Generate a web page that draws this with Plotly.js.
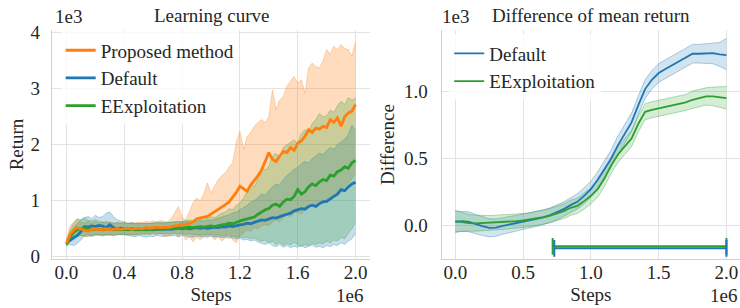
<!DOCTYPE html>
<html><head><meta charset="utf-8">
<script src="https://cdn.plot.ly/plotly-3.0.1.min.js"></script>
<style>html,body{margin:0;padding:0;background:#fff}#chart{width:740px;height:308px}</style>
</head><body><div id="chart"></div>
<script>
// ---------- Left panel: Learning curve (x in 1e6 steps, y in 1e3 return) ----------
const stepsL = [
0,0.025,0.05,0.075,0.1,0.125,0.15,0.175,0.2,0.225,
0.25,0.275,0.3,0.325,0.35,0.375,0.4,0.425,0.45,0.475,
0.5,0.525,0.55,0.575,0.6,0.625,0.65,0.675,0.7,0.725,
0.75,0.775,0.8,0.825,0.85,0.875,0.9,0.925,0.95,0.975,
1.0,1.025,1.05,1.075,1.1,1.125,1.15,1.175,1.2,1.225,
1.25,1.275,1.3,1.325,1.35,1.375,1.4,1.425,1.45,1.475,
1.5,1.525,1.55,1.575,1.6,1.625,1.65,1.675,1.7,1.725,
1.75,1.775,1.8,1.825,1.85,1.875,1.9,1.925,1.95,1.975,
2.0];

const proposedMean = [
0.24,0.40,0.48,0.52,0.50,0.47,0.46,0.49,0.50,0.48,
0.49,0.50,0.48,0.49,0.50,0.49,0.50,0.51,0.49,0.50,
0.51,0.50,0.52,0.51,0.52,0.53,0.52,0.53,0.52,0.54,
0.55,0.56,0.58,0.57,0.60,0.62,0.68,0.70,0.71,0.72,
0.76,0.80,0.84,0.88,0.93,0.98,1.06,1.15,1.26,1.22,
1.17,1.28,1.36,1.45,1.55,1.70,1.86,1.74,1.70,1.80,
1.88,1.86,1.95,1.90,2.03,2.07,2.15,2.27,2.22,2.30,
2.28,2.33,2.31,2.45,2.40,2.48,2.33,2.50,2.57,2.60,
2.72];
const proposedHi = [
0.30,0.55,0.62,0.68,0.62,0.60,0.64,0.60,0.63,0.60,
0.62,0.60,0.62,0.60,0.61,0.60,0.62,0.60,0.61,0.60,
0.62,0.61,0.63,0.62,0.64,0.63,0.65,0.64,0.62,0.68,
0.78,0.90,0.70,0.66,0.80,0.96,1.05,1.00,1.12,1.32,
1.14,1.25,1.38,1.45,1.50,1.60,1.68,2.05,2.24,1.92,
2.15,2.22,2.33,2.40,2.45,2.40,2.50,2.98,2.63,2.80,
2.86,3.05,3.13,3.22,3.10,3.16,2.92,3.37,3.46,3.40,
3.37,3.50,3.70,3.62,3.76,3.70,3.79,3.72,3.70,3.58,
3.85];
const proposedLo = [
0.20,0.30,0.38,0.40,0.38,0.37,0.36,0.38,0.40,0.38,
0.40,0.39,0.38,0.40,0.41,0.40,0.41,0.40,0.39,0.40,
0.41,0.40,0.42,0.40,0.41,0.40,0.42,0.38,0.36,0.40,
0.42,0.35,0.42,0.30,0.36,0.27,0.35,0.30,0.38,0.33,
0.40,0.30,0.36,0.28,0.34,0.42,0.30,0.25,0.38,0.42,
0.48,0.45,0.52,0.50,0.55,0.58,0.55,0.62,0.66,0.62,
0.70,0.74,0.72,0.78,0.80,0.76,0.85,0.88,0.92,0.90,
0.96,1.00,1.02,1.05,1.10,1.15,1.20,1.25,1.32,1.40,
1.48];

const defaultMean = [
0.25,0.30,0.34,0.38,0.45,0.54,0.53,0.55,0.54,0.56,
0.55,0.52,0.57,0.52,0.50,0.51,0.50,0.49,0.50,0.49,
0.48,0.49,0.48,0.49,0.48,0.49,0.50,0.49,0.50,0.49,
0.50,0.51,0.50,0.51,0.50,0.51,0.52,0.51,0.52,0.51,
0.52,0.53,0.52,0.54,0.53,0.55,0.54,0.56,0.57,0.58,
0.60,0.59,0.61,0.64,0.66,0.65,0.67,0.70,0.69,0.72,
0.74,0.76,0.78,0.82,0.84,0.86,0.85,0.90,0.92,0.90,
0.95,0.98,0.99,1.04,1.08,1.12,1.20,1.18,1.25,1.30,
1.33];
const defaultHi = [
0.30,0.42,0.52,0.60,0.66,0.70,0.72,0.68,0.74,0.70,
0.72,0.78,0.80,0.72,0.66,0.64,0.62,0.60,0.61,0.60,
0.59,0.60,0.59,0.60,0.60,0.61,0.62,0.60,0.61,0.62,
0.63,0.62,0.63,0.64,0.62,0.63,0.64,0.65,0.64,0.66,
0.65,0.67,0.68,0.70,0.72,0.75,0.78,0.80,0.84,0.88,
0.92,0.98,1.00,1.06,1.12,1.10,1.18,1.25,1.30,1.28,
1.38,1.45,1.50,1.56,1.60,1.66,1.70,1.68,1.75,1.80,
1.85,1.82,1.90,1.95,1.92,2.00,2.05,2.10,2.18,2.35,
2.25];
const defaultLo = [
0.20,0.22,0.20,0.24,0.30,0.38,0.40,0.36,0.38,0.40,
0.37,0.38,0.40,0.38,0.39,0.40,0.39,0.38,0.37,0.36,
0.38,0.37,0.35,0.37,0.36,0.38,0.37,0.36,0.38,0.37,
0.38,0.36,0.38,0.37,0.36,0.35,0.37,0.36,0.35,0.37,
0.36,0.35,0.36,0.34,0.35,0.33,0.34,0.32,0.33,0.30,
0.31,0.28,0.30,0.26,0.24,0.22,0.25,0.20,0.18,0.22,
0.17,0.20,0.16,0.19,0.17,0.20,0.16,0.18,0.21,0.17,
0.19,0.16,0.20,0.18,0.22,0.20,0.25,0.22,0.28,0.32,
0.42];

const eexpMean = [
0.22,0.36,0.44,0.48,0.50,0.52,0.50,0.48,0.50,0.49,
0.48,0.50,0.49,0.48,0.49,0.48,0.49,0.48,0.49,0.48,
0.49,0.48,0.49,0.48,0.49,0.50,0.49,0.50,0.51,0.50,
0.51,0.52,0.51,0.52,0.53,0.52,0.53,0.54,0.53,0.54,
0.55,0.54,0.56,0.57,0.58,0.60,0.59,0.62,0.64,0.66,
0.68,0.70,0.71,0.76,0.80,0.84,0.86,0.92,0.94,0.90,
0.98,1.03,1.02,1.08,1.20,1.12,1.16,1.25,1.30,1.27,
1.34,1.38,1.36,1.46,1.44,1.52,1.55,1.61,1.58,1.68,
1.72];
const eexpHi = [
0.28,0.48,0.60,0.68,0.66,0.70,0.65,0.64,0.66,0.63,
0.62,0.63,0.61,0.60,0.61,0.60,0.60,0.59,0.60,0.59,
0.60,0.59,0.60,0.59,0.60,0.61,0.60,0.61,0.62,0.61,
0.62,0.63,0.62,0.64,0.66,0.64,0.68,0.66,0.70,0.68,
0.72,0.70,0.74,0.78,0.80,0.86,0.84,0.92,0.96,1.05,
1.18,1.32,1.25,1.40,1.60,1.55,1.62,1.80,1.85,1.78,
1.95,2.00,2.05,2.09,2.02,2.20,2.27,2.22,2.38,2.45,
2.56,2.50,2.52,2.62,2.58,2.70,2.78,2.72,2.84,2.80,
2.83];
const eexpLo = [
0.18,0.28,0.34,0.36,0.38,0.36,0.37,0.38,0.40,0.39,
0.38,0.40,0.39,0.38,0.40,0.39,0.40,0.39,0.40,0.39,
0.40,0.41,0.40,0.41,0.42,0.41,0.42,0.41,0.42,0.41,
0.42,0.41,0.42,0.40,0.41,0.39,0.40,0.38,0.40,0.39,
0.40,0.38,0.39,0.37,0.38,0.36,0.37,0.35,0.36,0.34,
0.35,0.32,0.34,0.30,0.28,0.30,0.25,0.28,0.22,0.26,
0.20,0.24,0.21,0.26,0.22,0.18,0.22,0.20,0.24,0.22,
0.25,0.23,0.28,0.25,0.30,0.28,0.35,0.32,0.42,0.50,
0.62];

// ---------- Right panel: Difference of mean return ----------
const stepsR = [
0,0.05,0.1,0.15,0.2,0.25,0.3,0.35,0.4,0.45,
0.5,0.55,0.6,0.65,0.7,0.75,0.8,0.85,0.9,0.95,
1.0,1.05,1.1,1.15,1.2,1.25,1.3,1.35,1.4,1.45,
1.5,1.55,1.6,1.65,1.7,1.75,1.8,1.85,1.9,1.95,
2.0];
const diffDefaultMean = [
0.025,0.03,0.025,0.008,-0.008,-0.02,-0.018,-0.005,0.005,0.015,
0.025,0.035,0.045,0.058,0.075,0.095,0.12,0.15,0.175,0.22,
0.27,0.34,0.42,0.50,0.60,0.69,0.77,0.90,1.02,1.09,
1.14,1.17,1.20,1.23,1.26,1.285,1.285,1.285,1.29,1.28,
1.275];
const diffDefaultLo = [
-0.055,-0.045,-0.05,-0.065,-0.078,-0.088,-0.083,-0.068,-0.055,-0.043,
-0.032,-0.02,-0.01,0.003,0.02,0.04,0.065,0.095,0.12,0.16,
0.21,0.28,0.355,0.435,0.53,0.62,0.70,0.83,0.95,1.02,
1.07,1.10,1.13,1.16,1.19,1.215,1.215,1.21,1.21,1.19,
1.165];
const diffDefaultHi = [
0.105,0.105,0.10,0.08,0.062,0.048,0.047,0.058,0.065,0.073,
0.082,0.09,0.10,0.113,0.13,0.15,0.175,0.205,0.235,0.28,
0.33,0.40,0.485,0.565,0.67,0.76,0.84,0.97,1.09,1.16,
1.21,1.24,1.27,1.30,1.33,1.355,1.355,1.36,1.37,1.37,
1.40];
const diffEexpMean = [
0.03,0.022,0.015,0.013,0.015,0.017,0.02,0.022,0.025,0.03,
0.035,0.042,0.05,0.06,0.072,0.088,0.105,0.13,0.145,0.18,
0.22,0.27,0.35,0.45,0.53,0.59,0.65,0.76,0.85,0.865,
0.875,0.885,0.895,0.91,0.92,0.94,0.955,0.965,0.965,0.96,
0.952];
const diffEexpLo = [
-0.05,-0.045,-0.045,-0.045,-0.04,-0.038,-0.035,-0.032,-0.028,-0.022,
-0.017,-0.01,-0.003,0.007,0.018,0.033,0.05,0.073,0.087,0.12,
0.16,0.21,0.29,0.39,0.47,0.53,0.59,0.70,0.79,0.805,
0.815,0.825,0.835,0.85,0.86,0.875,0.89,0.90,0.895,0.885,
0.87];
const diffEexpHi = [
0.11,0.095,0.08,0.075,0.072,0.072,0.075,0.077,0.078,0.082,
0.087,0.094,0.103,0.113,0.126,0.143,0.16,0.187,0.203,0.24,
0.28,0.33,0.41,0.51,0.59,0.65,0.71,0.82,0.91,0.925,
0.935,0.945,0.955,0.97,0.98,1.005,1.02,1.03,1.035,1.035,
1.04];

// significance intervals (x in 1e6 steps, y in 1e3)
const sigNames = ['EExploitation', 'Default'];
const sigStart = [0.718, 0.73];
const sigEnd = [2.0, 2.0];
const sigY = [-0.159, -0.174];

// ticks
const xTickValsL = [0, 0.4, 0.8, 1.2, 1.6, 2.0];
const xTickTextL = ['0.0', '0.4', '0.8', '1.2', '1.6', '2.0'];
const yTickValsL = [0, 1, 2, 3, 4];
const yTickTextL = ['0', '1', '2', '3', '4'];
const xTickValsR = [0, 0.5, 1.0, 1.5, 2.0];
const xTickTextR = ['0.0', '0.5', '1.0', '1.5', '2.0'];
const yTickValsR = [0, 0.5, 1.0];
const yTickTextR = ['0.0', '0.5', '1.0'];

// ---------- styling ----------
const FONT = 'Liberation Serif';
const FS = 19;
const TXT = '#262626';
const COL = {orange: [255,127,14], blue: [31,119,180], green: [44,160,44]};
const rgba = (c, a) => `rgba(${c[0]},${c[1]},${c[2]},${a})`;

function band(x, lo, hi, c, xa, ya, fa, la) {
  return [
    {x: x, y: lo, xaxis: xa, yaxis: ya, type: 'scatter', mode: 'lines',
     line: {color: rgba(c, la), width: 1}, showlegend: false, hoverinfo: 'skip'},
    {x: x, y: hi, xaxis: xa, yaxis: ya, type: 'scatter', mode: 'lines', fill: 'tonexty',
     fillcolor: rgba(c, fa), line: {color: rgba(c, la), width: 1}, showlegend: false, hoverinfo: 'skip'}
  ];
}
function meanLine(x, y, c, name, xa, ya, w, lg, rank) {
  return {x: x, y: y, xaxis: xa, yaxis: ya, type: 'scatter', mode: 'lines', name: name,
          line: {color: rgba(c, 1), width: w}, legend: lg, legendrank: rank};
}

const traces = [];
traces.push(...band(stepsL, proposedLo, proposedHi, COL.orange, 'x', 'y', 0.27, 0.3));
traces.push(...band(stepsL, defaultLo, defaultHi, COL.blue, 'x', 'y', 0.25, 0.3));
traces.push(...band(stepsL, eexpLo, eexpHi, COL.green, 'x', 'y', 0.25, 0.3));
traces.push(meanLine(stepsL, defaultMean, COL.blue, 'Default', 'x', 'y', 2.8, 'legend', 2));
traces.push(meanLine(stepsL, eexpMean, COL.green, 'EExploitation', 'x', 'y', 2.8, 'legend', 3));
traces.push(meanLine(stepsL, proposedMean, COL.orange, 'Proposed method', 'x', 'y', 2.8, 'legend', 1));

traces.push(...band(stepsR, diffDefaultLo, diffDefaultHi, COL.blue, 'x2', 'y2', 0.2, 0.35));
traces.push(...band(stepsR, diffEexpLo, diffEexpHi, COL.green, 'x2', 'y2', 0.2, 0.35));
traces.push(meanLine(stepsR, diffDefaultMean, COL.blue, 'Default', 'x2', 'y2', 1.8, 'legend2', 1));
traces.push(meanLine(stepsR, diffEexpMean, COL.green, 'EExploitation', 'x2', 'y2', 1.8, 'legend2', 2));

// significance bars
sigNames.forEach((n, i) => {
  const c = n === 'Default' ? COL.blue : COL.green;
  traces.push({x: [sigStart[i], sigEnd[i]], y: [sigY[i], sigY[i]], xaxis: 'x2', yaxis: 'y2',
    type: 'scatter', mode: 'lines+markers', showlegend: false, hoverinfo: 'skip',
    line: {color: rgba(c, 1), width: 2},
    marker: {symbol: 'line-ns', size: 12, line: {color: rgba(c, 1), width: 2}}});
});

const tickFont = {family: FONT, size: FS, color: TXT};
const titleFont = {family: FONT, size: FS, color: TXT};
function axisBase(extra) {
  return Object.assign({
    showgrid: true, gridcolor: '#e3e3e3', gridwidth: 1,
    showline: true, linecolor: '#d0d0d0', linewidth: 1.25, mirror: false,
    zeroline: false, ticks: '', ticklen: 0, tickfont: tickFont, fixedrange: true
  }, extra);
}
const yDom = [0.159, 0.9026];

const layout = {
  width: 740, height: 308,
  margin: {l: 0, r: 0, t: 0, b: 0},
  paper_bgcolor: '#ffffff', plot_bgcolor: '#ffffff',
  font: {family: FONT, size: FS, color: TXT},
  showlegend: true,
  xaxis: axisBase({domain: [0.0703, 0.5], range: [-0.1, 2.1], anchor: 'y',
    tickmode: 'array', tickvals: xTickValsL, ticktext: xTickTextL, ticklabelstandoff: -4,
    title: {text: 'Steps', font: titleFont, standoff: 5}}),
  yaxis: axisBase({domain: yDom, range: [-0.04, 4.05], anchor: 'x',
    tickmode: 'array', tickvals: yTickValsL, ticktext: yTickTextL, ticklabelstandoff: 7,
    title: {text: 'Return', font: titleFont, standoff: 1}}),
  xaxis2: axisBase({domain: [0.597, 1.0], range: [-0.1, 2.1], anchor: 'y2',
    tickmode: 'array', tickvals: xTickValsR, ticktext: xTickTextR, ticklabelstandoff: -4,
    title: {text: 'Steps', font: titleFont, standoff: 5}}),
  yaxis2: axisBase({domain: yDom, range: [-0.254, 1.463], anchor: 'x2',
    tickmode: 'array', tickvals: yTickValsR, ticktext: yTickTextR, ticklabelstandoff: 9,
    title: {text: 'Difference', font: titleFont, standoff: 4}}),
  legend: {x: 0.082, y: 0.898, xanchor: 'left', yanchor: 'top', traceorder: 'normal',
    bgcolor: 'rgba(255,255,255,0.8)', borderwidth: 0, tracegroupgap: 0,
    font: {family: FONT, size: FS, color: TXT}, itemwidth: 30},
  legend2: {x: 0.607, y: 0.888, xanchor: 'left', yanchor: 'top', traceorder: 'normal',
    bgcolor: 'rgba(255,255,255,0.8)', borderwidth: 0, tracegroupgap: 0,
    font: {family: FONT, size: FS, color: TXT}, itemwidth: 30},
  annotations: [
    {text: 'Learning curve', xref: 'paper', yref: 'paper', x: 0.2865, y: 0.951,
     xanchor: 'center', yanchor: 'middle', showarrow: false, font: titleFont},
    {text: 'Difference of mean return', xref: 'paper', yref: 'paper', x: 0.7986, y: 0.951,
     xanchor: 'center', yanchor: 'middle', showarrow: false, font: titleFont},
    {text: '1e3', xref: 'paper', yref: 'paper', x: 0.071, y: 0.945,
     xanchor: 'left', yanchor: 'middle', showarrow: false, font: titleFont},
    {text: '1e3', xref: 'paper', yref: 'paper', x: 0.595, y: 0.945,
     xanchor: 'left', yanchor: 'middle', showarrow: false, font: titleFont},
    {text: '1e6', xref: 'paper', yref: 'paper', x: 0.493, y: 0.0,
     xanchor: 'right', yanchor: 'bottom', showarrow: false, font: titleFont},
    {text: '1e6', xref: 'paper', yref: 'paper', x: 0.998, y: 0.0,
     xanchor: 'right', yanchor: 'bottom', showarrow: false, font: titleFont}
  ]
};

Plotly.newPlot('chart', traces, layout, {staticPlot: true, displayModeBar: false});
</script>
</body></html>
